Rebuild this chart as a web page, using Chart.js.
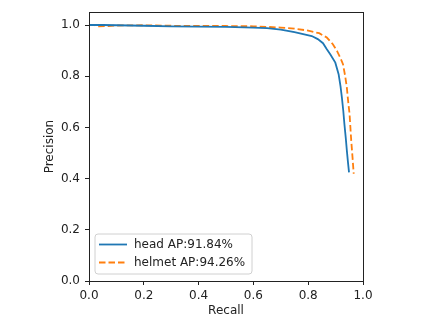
<!DOCTYPE html>
<html>
<head>
<meta charset="utf-8">
<script src="https://cdn.jsdelivr.net/npm/chart.js@4"></script>
<style>
  html, body { margin: 0; padding: 0; background: #fff; }
  canvas { display: block; }
</style>
</head>
<body>
<canvas id="prChart" width="432" height="327"></canvas>
<script>
// PR curves
var headRecall = [0, 0.05, 0.1, 0.2, 0.3, 0.4, 0.5, 0.6, 0.65, 0.7, 0.75, 0.813, 0.835, 0.854, 0.868, 0.881, 0.899, 0.911, 0.918, 0.923, 0.928, 0.932, 0.937, 0.941, 0.945, 0.949];
var headPrecision = [1.0, 1.0, 0.999, 0.997, 0.995, 0.994, 0.993, 0.99, 0.988, 0.982, 0.972, 0.957, 0.945, 0.929, 0.905, 0.885, 0.853, 0.808, 0.76, 0.716, 0.665, 0.615, 0.56, 0.51, 0.465, 0.424];

var helmetRecall = [0, 0.02, 0.03, 0.07, 0.1, 0.2, 0.3, 0.5, 0.6, 0.7, 0.75, 0.8, 0.84, 0.868, 0.89, 0.905, 0.918, 0.927, 0.935, 0.941, 0.946, 0.951, 0.957, 0.962, 0.966];
var helmetPrecision = [1.0, 1.0, 0.995, 0.996, 0.998, 0.999, 0.997, 0.996, 0.995, 0.99, 0.986, 0.978, 0.968, 0.951, 0.925, 0.899, 0.87, 0.847, 0.8, 0.756, 0.7, 0.652, 0.549, 0.48, 0.419];

var seriesLabels = ['head AP:91.84%', 'helmet AP:94.26%'];
var xTicks = [0, 0.2, 0.4, 0.6, 0.8, 1.0];
var yTicks = [0, 0.2, 0.4, 0.6, 0.8, 1.0];

function toPoints(xs, ys) {
  var pts = [];
  for (var i = 0; i < xs.length; i++) pts.push({ x: xs[i], y: ys[i] });
  return pts;
}

Chart.defaults.font.family = 'DejaVu Sans';
Chart.defaults.font.size = 12;
Chart.defaults.color = '#222';

var BLUE = '#1f77b4';
var ORANGE = '#ff7f0e';
var DASH = [6.5, 3];

// box around plot + legend inside lower-left
var boxAndLegend = {
  id: 'boxAndLegend',
  afterDraw: function (chart) {
    var c = chart.ctx, a = chart.chartArea;
    c.save();
    c.strokeStyle = '#222';
    c.lineWidth = 1;
    c.strokeRect(Math.round(a.left) + 0.5, Math.round(a.top) + 0.5, Math.round(a.right - a.left), Math.round(a.bottom - a.top));

    var lx = 95, ly = 234, lw = 157, lh = 40, r = 3;
    c.fillStyle = 'rgba(255,255,255,0.8)';
    c.strokeStyle = '#d0d0d0';
    c.beginPath();
    c.moveTo(lx + r, ly);
    c.arcTo(lx + lw, ly, lx + lw, ly + lh, r);
    c.arcTo(lx + lw, ly + lh, lx, ly + lh, r);
    c.arcTo(lx, ly + lh, lx, ly, r);
    c.arcTo(lx, ly, lx + lw, ly, r);
    c.closePath();
    c.fill();
    c.stroke();

    var colors = [BLUE, ORANGE];
    var dashes = [[], DASH];
    var rows = [244.5, 262.5];
    c.font = '12px "DejaVu Sans"';
    c.textBaseline = 'middle';
    for (var i = 0; i < seriesLabels.length; i++) {
      c.strokeStyle = colors[i];
      c.lineWidth = 1.8;
      c.setLineDash(dashes[i]);
      c.beginPath();
      c.moveTo(99, rows[i]);
      c.lineTo(127, rows[i]);
      c.stroke();
      c.setLineDash([]);
      c.fillStyle = '#222';
      c.fillText(seriesLabels[i], 134, rows[i]);
    }
    c.restore();
  }
};

new Chart(document.getElementById('prChart'), {
  type: 'scatter',
  data: {
    datasets: [{
      label: seriesLabels[0],
      data: toPoints(headRecall, headPrecision),
      showLine: true,
      borderColor: BLUE,
      borderWidth: 1.8,
      pointRadius: 0,
      tension: 0
    }, {
      label: seriesLabels[1],
      data: toPoints(helmetRecall, helmetPrecision),
      showLine: true,
      borderColor: ORANGE,
      borderWidth: 1.8,
      borderDash: DASH,
      pointRadius: 0,
      tension: 0
    }]
  },
  options: {
    responsive: false,
    animation: false,
    layout: { padding: { left: 0, top: 11, right: 69, bottom: 0 } },
    plugins: {
      legend: { display: false },
      tooltip: { enabled: false }
    },
    scales: {
      x: {
        type: 'linear',
        min: 0,
        max: 1,
        afterBuildTicks: function (s) { s.ticks = xTicks.map(function (v) { return { value: v }; }); },
        afterFit: function (s) { s.height = 46; },
        ticks: { callback: function (v) { return v.toFixed(1); }, padding: 4, color: '#222' },
        grid: { drawOnChartArea: false, tickLength: 4, color: '#222' },
        border: { color: '#222' },
        title: { display: true, text: 'Recall', color: '#222', padding: { top: 0, bottom: 9 } }
      },
      y: {
        type: 'linear',
        min: 0,
        max: 1.05,
        afterBuildTicks: function (s) { s.ticks = yTicks.map(function (v) { return { value: v }; }); },
        afterFit: function (s) { s.width = 89; },
        ticks: { callback: function (v) { return v.toFixed(1); }, padding: 5, color: '#222' },
        grid: { drawOnChartArea: false, tickLength: 4, color: '#222' },
        border: { color: '#222' },
        title: { display: true, text: 'Precision', color: '#222', padding: { top: 43, bottom: 0 } }
      }
    }
  },
  plugins: [boxAndLegend]
});
</script>
</body>
</html>
